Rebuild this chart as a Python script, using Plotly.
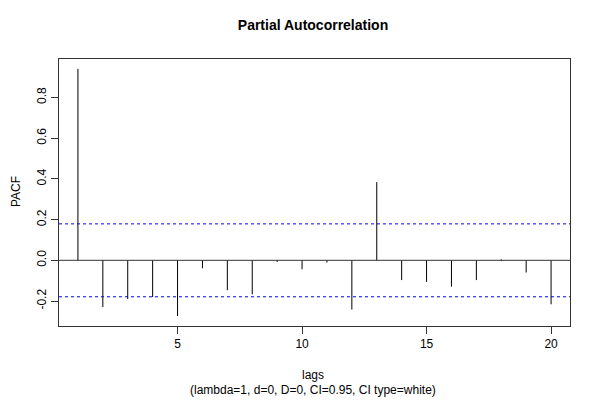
import plotly.graph_objects as go

lags = list(range(1, 21))
pacf = [0.94, -0.23, -0.19, -0.18, -0.274, -0.039, -0.147, -0.167, -0.008, -0.044,
        -0.011, -0.242, 0.384, -0.097, -0.106, -0.129, -0.097, 0.005, -0.06, -0.216]
ci = 0.179
x_ticks = [5, 10, 15, 20]
y_ticks = [-0.2, 0.0, 0.2, 0.4, 0.6, 0.8]

xs, ys = [], []
for l, v in zip(lags, pacf):
    xs += [l, l, None]
    ys += [0, v, None]

fig = go.Figure()
fig.add_trace(go.Scatter(x=xs, y=ys, mode="lines", line=dict(color="black", width=1),
                         hoverinfo="skip", showlegend=False))

font = "Liberation Sans, Arial, sans-serif"
fig.add_hline(y=0, line=dict(color="#333333", width=1))
fig.add_hline(y=ci, line=dict(color="blue", width=1, dash="3px,3px"))
fig.add_hline(y=-ci, line=dict(color="blue", width=1, dash="3px,3px"))

# page offset of 8px (body margin)
off = 8
W, H = 600 - off, 400 - off
L, T, PW, PH = 59 - off, 59 - off, 511, 267
R = W - L - PW
B = H - T - PH

def px(xp):
    return (xp - 59) / PW

def py(yp):
    return (326 - yp) / PH

xmin, xmax = 1 - 0.04 * 19, 20 + 0.04 * 19
ylo, yhi = min(pacf + [-ci]), max(pacf + [ci])
span = yhi - ylo
fig.update_layout(
    width=W, height=H,
    paper_bgcolor="white", plot_bgcolor="white",
    margin=dict(l=L, r=R, t=T, b=B, pad=0),
    font=dict(family=font, size=12, color="black"),
    title=dict(text="<b>Partial Autocorrelation</b>", x=(313 - off) / W, xanchor="center",
               y=1 - (25 - off) / H, yanchor="middle", font=dict(size=14)),
    xaxis=dict(range=[xmin, xmax], tickvals=x_ticks, ticks="outside", ticklen=7,
               showgrid=False, zeroline=False, showline=True, mirror=True,
               linecolor="#333333", linewidth=1, tickcolor="#333333",
               tickfont=dict(size=12)),
    yaxis=dict(range=[ylo - 0.04 * span, yhi + 0.04 * span], tickvals=y_ticks,
               ticktext=["-0.2", "0.0", "0.2", "0.4", "0.6", "0.8"],
               tickangle=-90, ticks="outside", ticklen=7,
               showgrid=False, zeroline=False, showline=True, mirror=True,
               linecolor="#333333", linewidth=1, tickcolor="#333333",
               tickfont=dict(size=12)),
    annotations=[
        dict(text="lags", x=px(313), y=py(375), xref="paper", yref="paper",
             showarrow=False, xanchor="center", yanchor="middle", font=dict(size=12)),
        dict(text="(lambda=1, d=0, D=0, CI=0.95, CI type=white)", x=px(313),
             y=py(390), xref="paper", yref="paper", showarrow=False,
             xanchor="center", yanchor="middle", font=dict(size=12)),
        dict(text="PACF", x=px(16), y=py(192), xref="paper", yref="paper",
             showarrow=False, textangle=-90, xanchor="center", yanchor="middle",
             font=dict(size=12)),
    ],
)
fig.update_xaxes(automargin=False)
fig.update_yaxes(automargin=False)
fig.write_html("out.html")
